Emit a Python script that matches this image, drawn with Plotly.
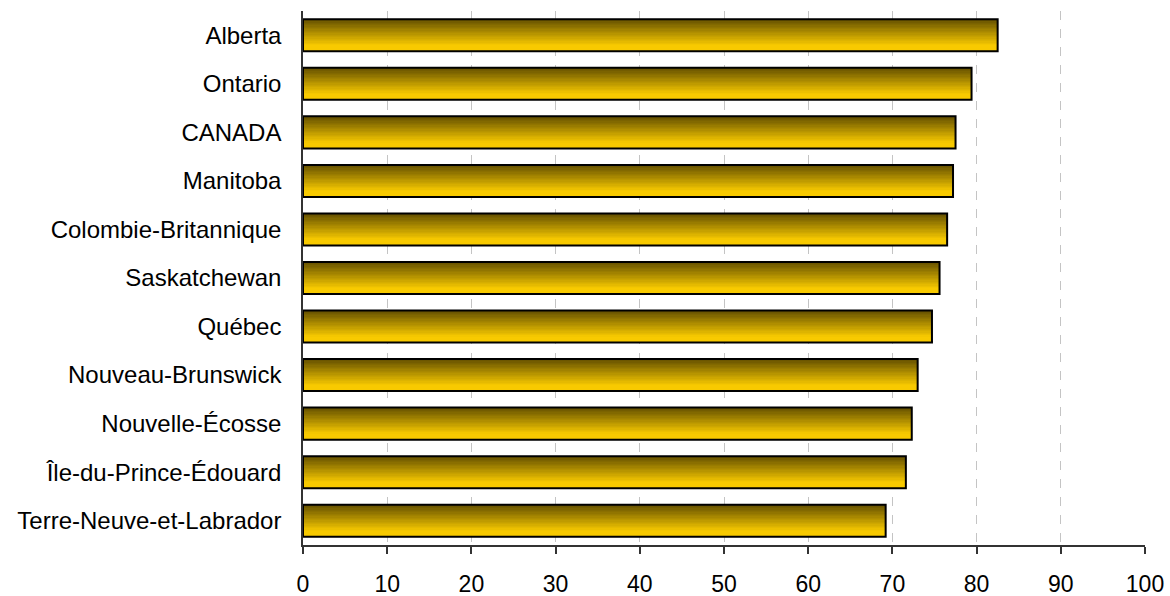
import plotly.graph_objects as go

provinces = ["Alberta", "Ontario", "CANADA", "Manitoba", "Colombie-Britannique",
             "Saskatchewan", "Québec", "Nouveau-Brunswick", "Nouvelle-Écosse",
             "Île-du-Prince-Édouard", "Terre-Neuve-et-Labrador"]
values = [82.5, 79.4, 77.5, 77.2, 76.5, 75.6, 74.7, 73.0, 72.3, 71.6, 69.2]
x_ticks = [0, 10, 20, 30, 40, 50, 60, 70, 80, 90, 100]

BAR_W = 0.66
N = 24
top_rgb = (100, 80, 0)
bot_rgb = (248, 202, 0)

fig = go.Figure()
for i in range(N):
    t = i / (N - 1)
    tt = min(1.0, t / 0.85)
    c = tuple(int(round(top_rgb[k] + (bot_rgb[k] - top_rgb[k]) * tt)) for k in range(3))
    fig.add_trace(go.Bar(
        x=values, y=provinces, orientation="h",
        width=BAR_W / N + 0.002, offset=-BAR_W / 2 + i * BAR_W / N,
        marker=dict(color="rgb(%d,%d,%d)" % c, line=dict(width=0)),
        showlegend=False, hoverinfo="skip"))

fig.add_trace(go.Bar(
    x=values, y=provinces, orientation="h", width=BAR_W,
    marker=dict(color="rgba(0,0,0,0)", line=dict(color="black", width=2)),
    showlegend=False))

fig.update_layout(
    width=1170, height=596,
    margin=dict(l=303, r=25, t=11, b=51),
    barmode="overlay",
    plot_bgcolor="white", paper_bgcolor="white",
    font=dict(family="Liberation Sans, Arial, sans-serif", size=23, color="black"),
)
fig.update_xaxes(
    range=[0, 100], tickvals=x_ticks, showgrid=True, gridcolor="#c4c4c4",
    griddash="dash", gridwidth=1, zeroline=False,
    showline=True, linecolor="#333", linewidth=1.5,
    ticks="outside", ticklen=7, tickcolor="#333", tickwidth=1.5,
    ticklabelstandoff=11, automargin=False,
)
fig.update_yaxes(
    type="category", categoryorder="array", categoryarray=provinces,
    range=[10.5, -0.5], showgrid=False, zeroline=False,
    showline=True, linecolor="#333", linewidth=1.5, ticks="",
    ticklabelstandoff=15, automargin=False, tickfont=dict(size=24),
)

fig.write_html("out.html", config={"displayModeBar": False},
               post_script="document.body.style.margin='0';")
